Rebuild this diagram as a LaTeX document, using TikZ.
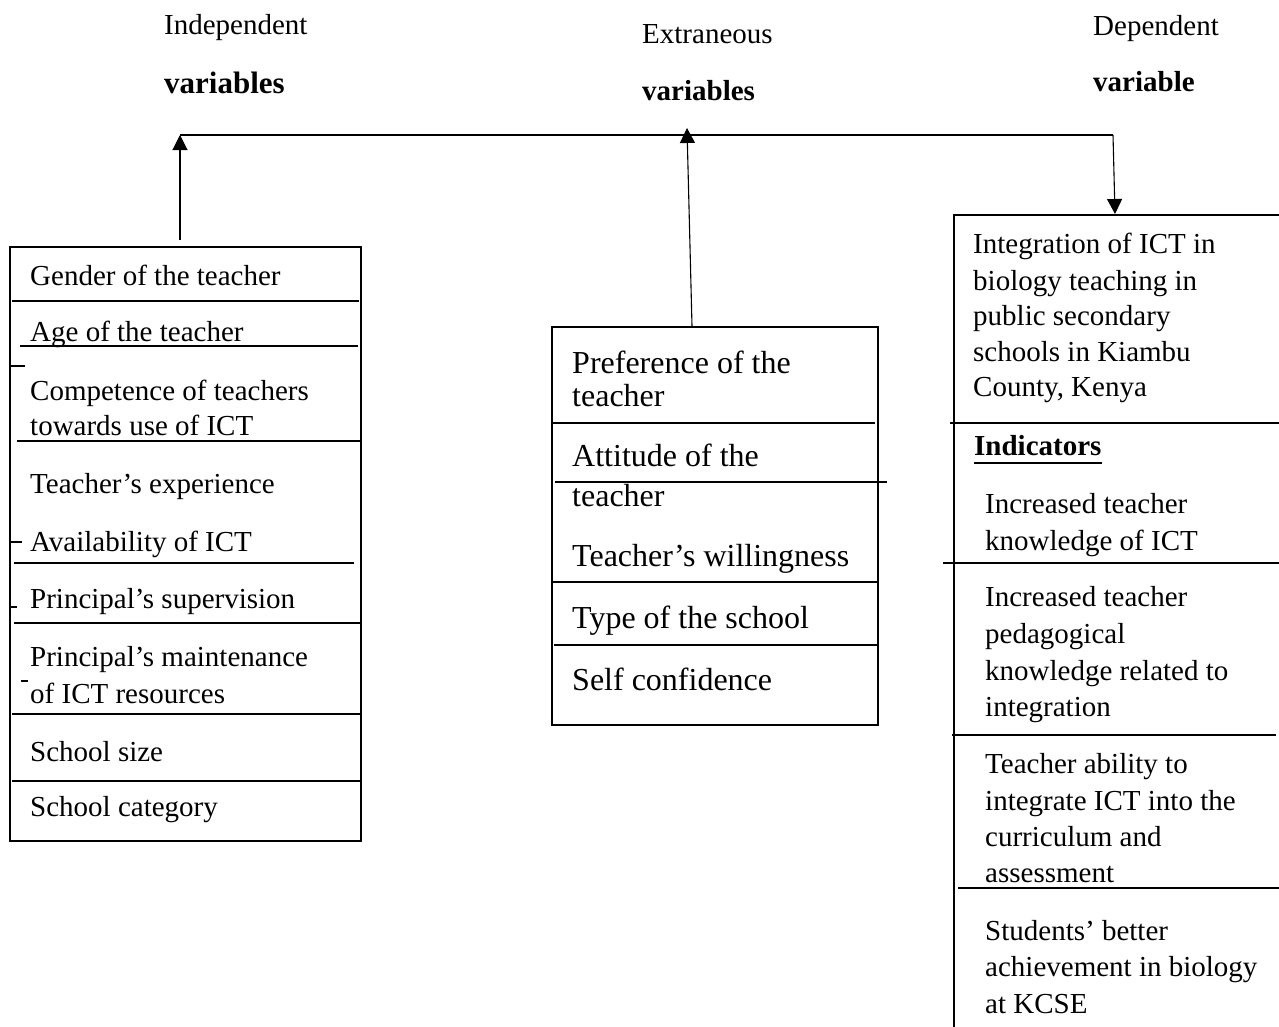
\documentclass[tikz,border=0pt]{standalone}
\usepackage{fontspec}
\setmainfont{Liberation Serif}
\usetikzlibrary{arrows.meta}
\begin{document}
\begin{tikzpicture}[x=1pt,y=-1pt,
  box/.style={draw, line width=1.7pt, inner sep=0pt, anchor=north west},
  div/.style={line width=1.7pt},
  arr/.style={line width=1.1pt, -{Triangle[length=15pt,width=15pt]}},
  lt/.style={anchor=base west, inner sep=0pt, font=\fontsize{29}{35}\selectfont},
  mt/.style={anchor=base west, inner sep=0pt, font=\fontsize{32}{38}\selectfont},
  hb/.style={anchor=base west, inner sep=0pt, font=\fontsize{29}{35}\selectfont\bfseries}]
\useasboundingbox (0,0) rectangle (1279,1026);
\clip (0,0) rectangle (1279,1026);
\fill[white] (0,0) rectangle (1279,1026);

% headers
\node[lt] (hIndep) at (164,34) {Independent};
\node[hb, font=\fontsize{31}{35}\selectfont\bfseries] (hIndepB) at (164,93.3) {variables};
\node[lt] (hExtr) at (642,43.3) {Extraneous};
\node[hb] (hExtrB) at (642,100.7) {variables};
\node[lt] (hDep) at (1093,35) {Dependent};
\node[hb] (hDepB) at (1093,91.7) {variable};

% boxes
\node[box, minimum width=351pt, minimum height=594pt] (indep) at (9,246) {};
\node[box, minimum width=326pt, minimum height=398pt] (extr) at (551,326) {};
\node[box, minimum width=340pt, minimum height=830pt] (dep) at (953,214) {};

% connectors
\coordinate (aL) at (180,240);
\coordinate (jL) at (180,135);
\coordinate (jR) at (1113,135);
\coordinate (aM) at (692,326);
\coordinate (tM) at (687,128);
\coordinate (tR) at (1115,214);
\draw[line width=1.4pt] (jL) -- (jR);
\draw[arr] (aL) -- (jL);
\draw[arr] (aM) -- (tM);
\draw[arr] (jR) -- (tR);

% left dividers
\draw[div] (12,301) -- (359,301);
\draw[div] (20,346) -- (358,346);
\draw[div] (17,441) -- (362,441);
\draw[div] (14,563) -- (354,563);
\draw[div] (14,623) -- (361,623);
\draw[div] (12,714) -- (360,714);
\draw[div] (12,781) -- (360,781);
\draw[line width=1.3pt] (9,366) -- (25,366);
\draw[line width=1.3pt] (9,542) -- (22,542);
\draw[line width=1.3pt] (10,607) -- (17,607);
\draw[line width=1.3pt] (21,681) -- (28,681);

% middle dividers
\draw[div] (551,423) -- (875,423);
\draw[div] (555,482) -- (887,482);
\draw[div] (551,582) -- (878,582);
\draw[div] (554,645) -- (877,645);

% right dividers
\draw[div] (950,423) -- (1279,423);
\draw[div] (943,563) -- (1279,563);
\draw[div] (952,735) -- (1276,735);
\draw[div] (958,888) -- (1279,888);

% left texts
\foreach \y/\t [count=\i] in {285/Gender of the teacher, 341.7/Age of the teacher,
  400/Competence of teachers, 435/towards use of ICT, 493/Teacher’s experience,
  551.7/Availability of ICT, 608/Principal’s supervision, 666.7/Principal’s maintenance,
  703/of ICT resources, 761.7/School size, 816.7/School category}
  \node[lt] (L\i) at (30,\y) {\t};

% middle texts
\foreach \y/\t [count=\i] in {373/Preference of the, 406.7/teacher, 466.7/Attitude of the,
  506.7/teacher, 566.7/Teacher’s willingness, 628/Type of the school, 690/Self confidence}
  \node[mt] (M\i) at (572,\y) {\t};

% right texts
\foreach \y/\t [count=\i] in {253/Integration of ICT in, 290/biology teaching in,
  325/public secondary, 361.7/schools in Kiambu, 396.7/{County, Kenya}}
  \node[lt] (R\i) at (973,\y) {\t};
\node[hb] (ind) at (974,455) {Indicators};
\draw[line width=2pt] ([yshift=-8pt]ind.base west) -- ([yshift=-8pt]ind.base east);
\foreach \y/\t [count=\i] in {513/Increased teacher, 550/knowledge of ICT,
  606.7/Increased teacher, 643/pedagogical, 680/knowledge related to, 716/integration,
  773/Teacher ability to, 810/integrate ICT into the, 846.7/curriculum and, 882.7/assessment,
  940/Students’ better, 976.7/achievement in biology, 1013/at KCSE}
  \node[lt] (S\i) at (985,\y) {\t};
\end{tikzpicture}
\end{document}
